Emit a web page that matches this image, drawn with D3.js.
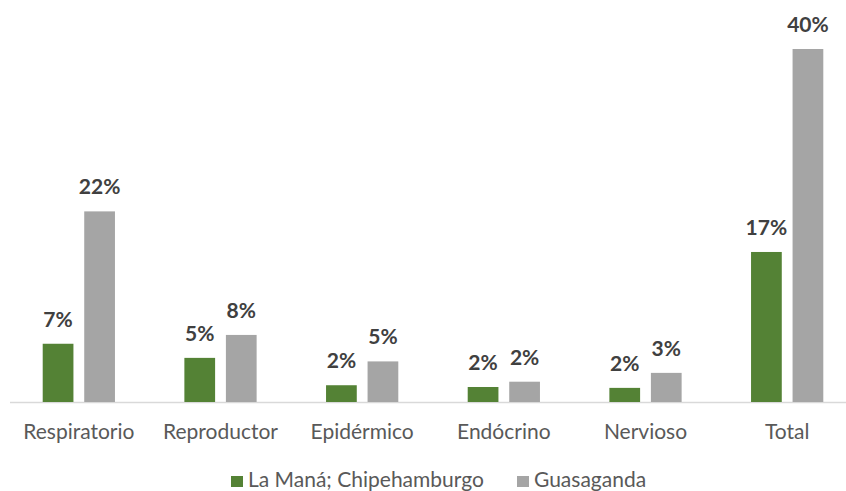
<!DOCTYPE html>
<html>
<head>
<meta charset="utf-8">
<script src="https://cdn.jsdelivr.net/npm/d3@7"></script>
<style>
  body { margin: 0; background: #fff; }
  svg { display: block; font-family: Lato, "Open Sans", sans-serif; }
</style>
</head>
<body>
<div id="chart"></div>
<script>
const categories = ["Respiratorio", "Reproductor", "Epidérmico", "Endócrino", "Nervioso", "Total"]
const seriesNames = ["La Maná; Chipehamburgo", "Guasaganda"]
const laMana = [0.066, 0.050, 0.019, 0.017, 0.016, 0.170]
const guasaganda = [0.216, 0.076, 0.046, 0.023, 0.033, 0.400]
const colors = ["#548235", "#a5a5a5"]

const WIDTH = 846
const HEIGHT = 491
const BASELINE = 402

const svg = d3.select("#chart")
              .append("svg")
              .attr("width", WIDTH)
              .attr("height", HEIGHT)

const x = d3.scaleBand()
            .domain(categories)
            .range([8, 858])
            .paddingInner(0.49)
            .paddingOuter(0.245)

const xInner = d3.scaleBand()
                 .domain(seriesNames)
                 .range([0, x.bandwidth()])
                 .paddingInner(0.26)

const y = d3.scaleLinear()
            .domain([0, 0.40])
            .range([BASELINE, 49])

const fmt = d3.format(".0%")

const rows = categories.map((c, i) => ({
  category: c,
  values: [
    { series: seriesNames[0], value: laMana[i], color: colors[0] },
    { series: seriesNames[1], value: guasaganda[i], color: colors[1] }
  ]
}))

// axis line + category labels
const xAxis = svg.append("g")
                 .attr("transform", `translate(0, ${BASELINE})`)
                 .call(d3.axisBottom(x).tickSize(0).tickPadding(22))

xAxis.select(".domain")
     .attr("d", `M10,0.5H${WIDTH}`)
     .attr("stroke", "#d9d9d9")
     .attr("stroke-width", 1.5)

xAxis.selectAll("text")
     .attr("font-size", 21)
     .attr("fill", "#595959")
     .attr("font-family", "Lato, sans-serif")

const groups = svg.selectAll(".group")
                  .data(rows)
                  .enter()
                  .append("g")
                  .attr("class", "group")
                  .attr("transform", d => `translate(${x(d.category)}, 0)`)

groups.selectAll("rect")
      .data(d => d.values)
      .enter()
      .append("rect")
      .attr("x", d => xInner(d.series))
      .attr("width", xInner.bandwidth())
      .attr("y", d => y(d.value))
      .attr("height", d => BASELINE - y(d.value))
      .attr("fill", d => d.color)

groups.selectAll(".label")
      .data(d => d.values)
      .enter()
      .append("text")
      .attr("class", "label")
      .attr("x", d => xInner(d.series) + xInner.bandwidth() / 2)
      .attr("y", d => y(d.value) - 17)
      .attr("text-anchor", "middle")
      .attr("font-size", 21)
      .attr("font-weight", "bold")
      .attr("fill", "#404040")
      .text(d => fmt(d.value))

// legend
const legendX = [231, 517]
const legend = svg.selectAll(".legend")
                  .data(seriesNames)
                  .enter()
                  .append("g")
                  .attr("class", "legend")
                  .attr("transform", (d, i) => `translate(${legendX[i]}, 476)`)

legend.append("rect")
      .attr("width", 12)
      .attr("height", 11)
      .attr("fill", (d, i) => colors[i])

legend.append("text")
      .attr("x", 17)
      .attr("y", 11)
      .attr("font-size", 21)
      .attr("fill", "#595959")
      .text(d => d)
</script>
</body>
</html>
